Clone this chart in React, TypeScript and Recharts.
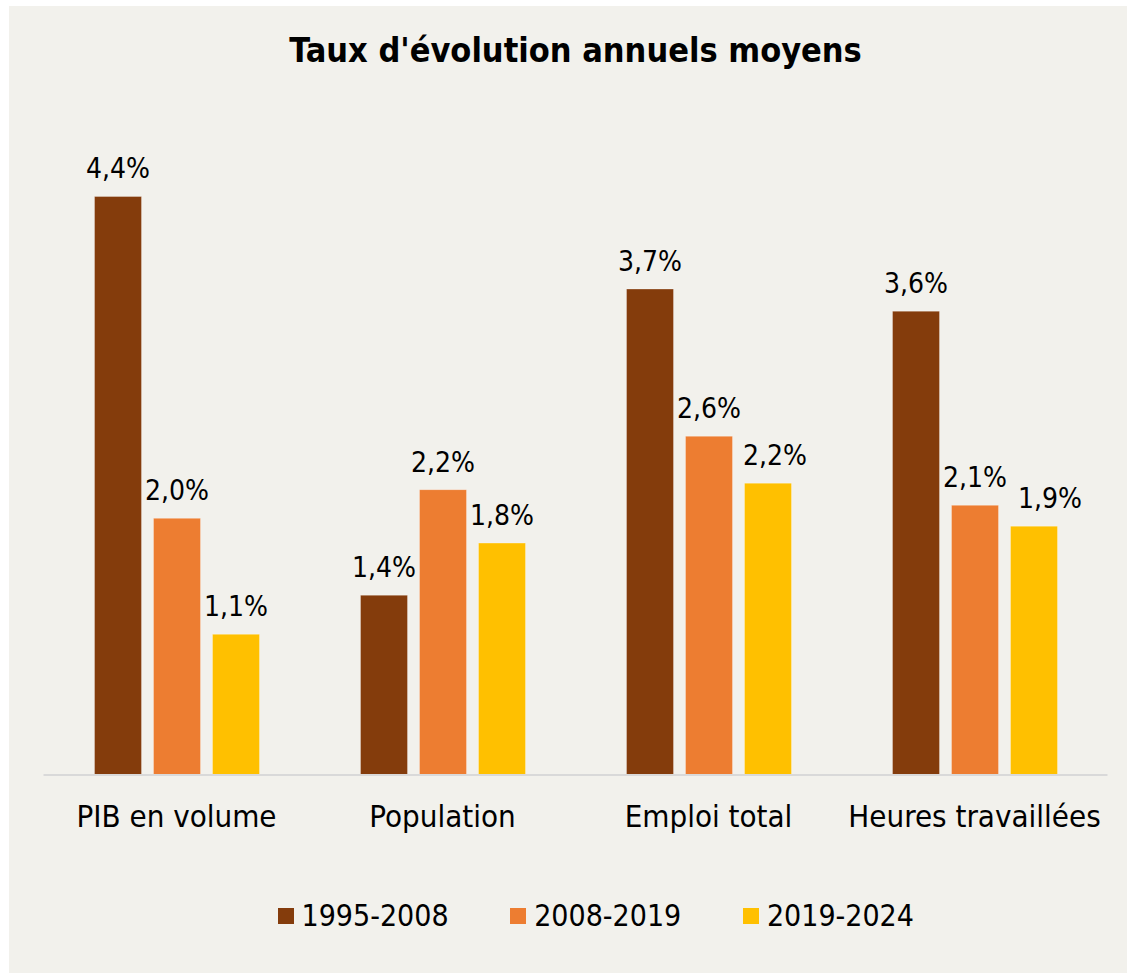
import { BarChart, Bar, XAxis, YAxis, Legend, LabelList } from "recharts";

const categories = ["PIB en volume", "Population", "Emploi total", "Heures travaillées"];
const periods = ["1995-2008", "2008-2019", "2019-2024"];
const colors = ["#843c0c", "#ed7d31", "#ffc000"];

// average annual growth rates (%)
const rates1995_2008 = [4.44, 1.38, 3.73, 3.56];
const rates2008_2019 = [1.97, 2.19, 2.6, 2.07];
const rates2019_2024 = [1.08, 1.78, 2.24, 1.91];

const chartData = categories.map((name, i) => ({
  name,
  p1: rates1995_2008[i],
  p2: rates2008_2019[i],
  p3: rates2019_2024[i],
}));

const FONT = "'DejaVu Sans Condensed', 'DejaVu Sans', sans-serif";
const BG = "#f2f1ec";

// the last series' labels were nudged right in the original to avoid collisions
const labelNudge: Record<string, number[]> = { p3: [0, 0, 7, 16] };

const fmt = (v: unknown) => Number(v).toFixed(1).replace(".", ",") + "%";

function CategoryTick(props: any) {
  const { x, y, payload } = props;
  return (
    <text x={x} y={y + 52} textAnchor="middle" fill="#000" fontSize={31} fontFamily={FONT}>
      {payload.value}
    </text>
  );
}

function makeValueLabel(key: string) {
  return (props: any) => {
    const { x, y, width, value, index } = props;
    const dx = labelNudge[key]?.[index] ?? 0;
    return (
      <text
        x={Number(x) + Number(width) / 2 + dx}
        y={Number(y) - 18}
        textAnchor="middle"
        fill="#000"
        fontSize={28}
        fontFamily={FONT}
      >
        {fmt(value)}
      </text>
    );
  };
}

function PeriodLegend() {
  return (
    <div style={{ display: "flex", height: 40, alignItems: "center", fontFamily: FONT }}>
      {periods.map((p, i) => (
        <div key={p} style={{ width: 232.7, display: "flex", alignItems: "center" }}>
          <span style={{ width: 16, height: 16, background: colors[i], marginRight: 8, flex: "none" }} />
          <span style={{ fontSize: 30, lineHeight: "30px", color: "#000" }}>{p}</span>
        </div>
      ))}
    </div>
  );
}

export default function App() {
  const keys = ["p1", "p2", "p3"];
  return (
    <div style={{ position: "absolute", left: 9, top: 6, width: 1118, height: 967, background: BG }}>
      <div
        style={{
          position: "absolute",
          left: 34.5,
          width: 1064,
          top: 27,
          textAlign: "center",
          fontFamily: FONT,
          fontWeight: "bold",
          fontSize: 34,
          lineHeight: "34px",
          color: "#000",
        }}
      >
        Taux d'évolution annuels moyens
      </div>
      <BarChart
        width={1118}
        height={967}
        data={chartData}
        margin={{ top: 117.5, right: 19.5, left: 34.5, bottom: 37 }}
        barSize={47}
        barGap={12}
      >
        <XAxis
          dataKey="name"
          height={121}
          tickLine={false}
          tickSize={0}
          tickMargin={0}
          axisLine={{ stroke: "#d9d9d9", strokeWidth: 2 }}
          tick={<CategoryTick />}
          interval={0}
        />
        <YAxis hide domain={[0, 5]} />
        <Legend
          verticalAlign="bottom"
          content={<PeriodLegend />}
          wrapperStyle={{ left: 268.5, width: 700 }}
        />
        {keys.map((k, i) => (
          <Bar
            key={k}
            dataKey={k}
            name={periods[i]}
            fill={colors[i]}
            stroke="#ffffff"
            strokeOpacity={0.3}
            strokeWidth={1}
            isAnimationActive={false}
          >
            <LabelList dataKey={k} content={makeValueLabel(k)} />
          </Bar>
        ))}
      </BarChart>
    </div>
  );
}
